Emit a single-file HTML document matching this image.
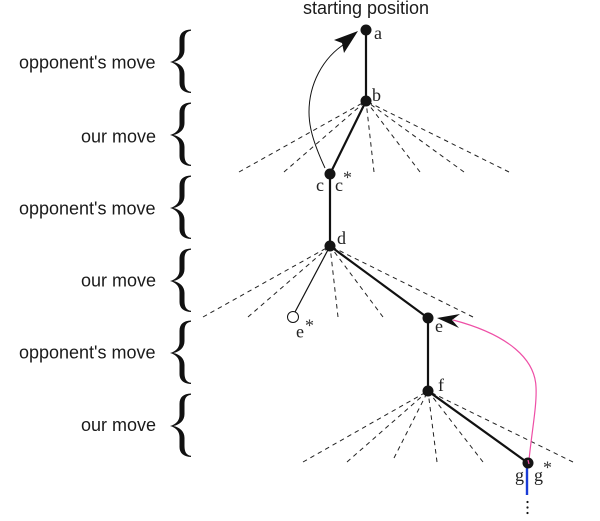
<!DOCTYPE html>
<html>
<head>
<meta charset="utf-8">
<style>
html,body{margin:0;padding:0;background:#fff;width:600px;height:521px;overflow:hidden}
svg{display:block;filter:blur(0.3px)}
.s{font-family:"Liberation Sans",sans-serif;font-size:18px;fill:#1a1a1a}
.t{font-family:"Liberation Serif",serif;font-size:18px;fill:#222}
.st{font-family:"Liberation Serif",serif;font-size:18px;fill:#333}
</style>
</head>
<body>
<svg width="600" height="521" viewBox="0 0 600 521" xmlns="http://www.w3.org/2000/svg">
<defs>
<path id="br" d="M21 0.5C13.5 0.8 9.5 4 9.5 11V22C9.5 27.5 6 31.5 0 33C6 34.5 9.5 38.5 9.5 44V54C9.5 60 13.5 63.7 21 64V62.8C16.5 62.3 14.5 59 14.5 53V45C14.5 38.5 10 34.5 3.5 33C10 31.5 14.5 27.5 14.5 21V11C14.5 5 16.5 2.3 21 1.7Z"/>
</defs>
<g fill="#111">
<use href="#br" x="170" y="29"/>
<use href="#br" x="170" y="102"/>
<use href="#br" x="170" y="175"/>
<use href="#br" x="170" y="248"/>
<use href="#br" x="170" y="320"/>
<use href="#br" x="170" y="393"/>
</g>
<g class="s" text-anchor="end">
<text x="155.5" y="68.5">opponent's move</text>
<text x="156" y="142.5">our move</text>
<text x="155.5" y="214.5">opponent's move</text>
<text x="156" y="286.5">our move</text>
<text x="155.5" y="358.5">opponent's move</text>
<text x="156" y="431">our move</text>
</g>
<text class="s" x="303" y="14">starting position</text>

<g stroke="#222" stroke-width="1" stroke-dasharray="4.5 4" fill="none">
<path d="M239 172L366 101M284 172L366 101M374 172L366 101M420 172L366 101M464 172L366 101M509 172L366 101"/>
<path d="M203 317L330 246M248 317L330 246M338 317L330 246M383 317L330 246M473 317L330 246"/>
<path d="M303 462L428 391M347 462L428 391M394 458L428 391M437 462L428 391M483 462L428 391M573 462L428 391"/>
</g>

<g stroke="#111" fill="none">
<path d="M366 30V101L330 174V246L428 318V391L528 463" stroke-width="2.2"/>
<path d="M330 246L295 312" stroke-width="1.2"/>
</g>
<path d="M527 465V495" stroke="#1a3cd6" stroke-width="2.4" fill="none"/>

<path d="M325 168C312 140 309 125 309 112C309 85 322 58 346 43" stroke="#111" stroke-width="1" fill="none"/>
<path d="M358 31L334 40L342 43L344 53Z" fill="#111"/>
<path d="M529 460C532 430 537 405 536 387C535 360 510 335 453 320" stroke="#ee4fa6" stroke-width="1.2" fill="none"/>
<path d="M437 318L460 314L452 320L459 328Z" fill="#111"/>

<g fill="#141414">
<circle cx="366" cy="30" r="5.5"/>
<circle cx="366" cy="101" r="5.5"/>
<circle cx="330" cy="174" r="5.5"/>
<circle cx="330" cy="246" r="5.5"/>
<circle cx="428" cy="318" r="5.5"/>
<circle cx="428" cy="391" r="5.5"/>
<circle cx="528" cy="463" r="5.5"/>
<circle cx="527.5" cy="502" r="1.1"/>
<circle cx="527.5" cy="507.5" r="1.1"/>
<circle cx="527.5" cy="513" r="1.1"/>
</g>
<path d="M528 460L529 464" stroke="#ee4fa6" stroke-width="1.2"/>
<circle cx="293" cy="317" r="5.5" fill="#fff" stroke="#111" stroke-width="1"/>

<g class="t">
<text x="374" y="39">a</text>
<text x="372" y="101">b</text>
<text x="316" y="191">c</text>
<text x="335" y="191">c</text>
<text x="337" y="244">d</text>
<text x="296" y="337.5">e</text>
<text x="435" y="332">e</text>
<text x="438" y="391">f</text>
<text x="515" y="481">g</text>
<text x="534" y="481">g</text>
</g>
<g class="st">
<text x="343" y="183.5">*</text>
<text x="305" y="331.5">*</text>
<text x="543" y="473.5">*</text>
</g>
</svg>
</body>
</html>
